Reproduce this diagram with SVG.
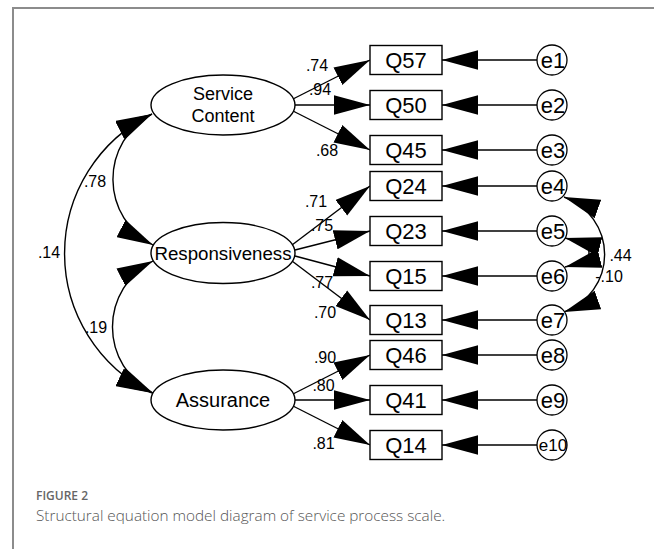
<svg xmlns="http://www.w3.org/2000/svg" width="654" height="549" viewBox="0 0 654 549">
  <style>
    .bg { fill: #ffffff; }
    .frame { stroke: #8c8c8c; stroke-width: 2; fill: none; }
    .latent { fill: #ffffff; stroke: #000000; stroke-width: 1.4; }
    .obs { fill: #ffffff; stroke: #000000; stroke-width: 1.4; }
    .err { fill: #ffffff; stroke: #000000; stroke-width: 1.3; }
    .edge { fill: none; stroke: #000000; stroke-width: 1.4; }
    .path { marker-end: url(#head); }
    .cov { marker-start: url(#head); marker-end: url(#head); }
    text { font-family: "Liberation Sans", Arial, sans-serif; fill: #000000; }
    .lt { font-size: 18px; text-anchor: middle; }
    .ob { font-size: 22px; text-anchor: middle; }
    .el { font-size: 22px; text-anchor: middle; }
    .coef { font-size: 16px; text-anchor: middle; }
    .cap-title { font-family: "Open Sans", "Liberation Sans", sans-serif; font-size: 12px; font-weight: 600; fill: #666666; }
    .cap-text { font-family: "Open Sans", "Liberation Sans", sans-serif; font-size: 15.3px; font-weight: 300; fill: #555555; }
  </style>
  <defs>
    <marker id="head" markerUnits="userSpaceOnUse" markerWidth="36" markerHeight="20" viewBox="0 0 35 19" refX="35" refY="9.5" orient="auto-start-reverse">
      <path d="M0,0 L35,9.5 L0,19 Z" fill="#000000"/>
    </marker>
  </defs>

  <rect class="bg" x="0" y="0" width="654" height="549"/>
  <!-- panel frame -->
  <path class="frame" d="M13,549 L13,8 L654,8"/>

  <!-- connectors -->
  <g id="connectors">
    <!-- loadings: Service Content -->
    <path class="edge path" d="M293,99 L370,60"/>
    <path class="edge path" d="M295,105 L370,105"/>
    <path class="edge path" d="M293,111 L370,150"/>
    <!-- loadings: Responsiveness -->
    <path class="edge path" d="M292,245 L370,186"/>
    <path class="edge path" d="M295,250 L370,231"/>
    <path class="edge path" d="M295,256 L370,276"/>
    <path class="edge path" d="M292,261 L370,320"/>
    <!-- loadings: Assurance -->
    <path class="edge path" d="M293,394 L370,355"/>
    <path class="edge path" d="M295,400 L370,400"/>
    <path class="edge path" d="M293,406 L370,445"/>

    <!-- error terms -->
    <path class="edge path" d="M537,60 L442,60"/>
    <path class="edge path" d="M537,105 L442,105"/>
    <path class="edge path" d="M537,150 L442,150"/>
    <path class="edge path" d="M537,186 L442,186"/>
    <path class="edge path" d="M537,231 L442,231"/>
    <path class="edge path" d="M537,276 L442,276"/>
    <path class="edge path" d="M537,320 L442,320"/>
    <path class="edge path" d="M537,355 L442,355"/>
    <path class="edge path" d="M537,400 L442,400"/>
    <path class="edge path" d="M537,445 L442,445"/>

    <!-- factor covariances -->
    <path class="edge cov" d="M152,114 A155 155 0 0 0 152,393"/>
    <path class="edge cov" d="M152,114 A74 74 0 0 0 153,245"/>
    <path class="edge cov" d="M153,261 A74 74 0 0 0 153,393"/>

    <!-- error covariances -->
    <path class="edge cov" d="M564,197 A61 61 0 0 1 564,312"/>
    <path class="edge cov" d="M565,238 L585,243 Q593,252.5 585,262 L565,267"/>
  </g>

  <!-- coefficient labels -->
  <g id="coefficients">
    <text class="coef" x="317" y="70.5">.74</text>
    <text class="coef" x="320" y="95">.94</text>
    <text class="coef" x="327" y="156">.68</text>
    <text class="coef" x="316" y="206.5">.71</text>
    <text class="coef" x="322" y="231">.75</text>
    <text class="coef" x="322" y="288">.77</text>
    <text class="coef" x="325" y="318">.70</text>
    <text class="coef" x="325" y="363">.90</text>
    <text class="coef" x="323.5" y="391">.80</text>
    <text class="coef" x="323.5" y="449">.81</text>
    <text class="coef" x="95" y="187">.78</text>
    <text class="coef" x="49" y="258">.14</text>
    <text class="coef" x="96" y="333">.19</text>
    <text class="coef" x="620.5" y="261">.44</text>
    <text class="coef" x="609" y="282">-.10</text>
  </g>

  <!-- latent factors -->
  <g id="service-content">
    <ellipse class="latent" cx="223" cy="105" rx="72" ry="30"/>
    <text class="lt" x="223" y="100">Service</text>
    <text class="lt" x="223" y="121.5">Content</text>
  </g>
  <g id="responsiveness">
    <ellipse class="latent" cx="223" cy="253" rx="72" ry="30.5"/>
    <text class="lt" x="223" y="260" style="font-size:18.7px">Responsiveness</text>
  </g>
  <g id="assurance">
    <ellipse class="latent" cx="223" cy="400" rx="72" ry="30"/>
    <text class="lt" x="223" y="407" style="font-size:20px">Assurance</text>
  </g>

  <!-- observed items -->
  <g id="q57"><rect class="obs" x="370" y="45.5" width="72" height="29"/><text class="ob" x="406" y="68">Q57</text></g>
  <g id="q50"><rect class="obs" x="370" y="90.5" width="72" height="29"/><text class="ob" x="406" y="113">Q50</text></g>
  <g id="q45"><rect class="obs" x="370" y="135.5" width="72" height="29"/><text class="ob" x="406" y="158">Q45</text></g>
  <g id="q24"><rect class="obs" x="370" y="171.5" width="72" height="29"/><text class="ob" x="406" y="194">Q24</text></g>
  <g id="q23"><rect class="obs" x="370" y="216.5" width="72" height="29"/><text class="ob" x="406" y="239">Q23</text></g>
  <g id="q15"><rect class="obs" x="370" y="261.5" width="72" height="29"/><text class="ob" x="406" y="284">Q15</text></g>
  <g id="q13"><rect class="obs" x="370" y="305.5" width="72" height="29"/><text class="ob" x="406" y="328">Q13</text></g>
  <g id="q46"><rect class="obs" x="370" y="340.5" width="72" height="29"/><text class="ob" x="406" y="363">Q46</text></g>
  <g id="q41"><rect class="obs" x="370" y="385.5" width="72" height="29"/><text class="ob" x="406" y="408">Q41</text></g>
  <g id="q14"><rect class="obs" x="370" y="430.5" width="72" height="29"/><text class="ob" x="406" y="453">Q14</text></g>

  <!-- error terms -->
  <g id="e1"><circle class="err" cx="552" cy="60" r="15"/><text class="el" x="553" y="67.5">e1</text></g>
  <g id="e2"><circle class="err" cx="552" cy="105" r="15"/><text class="el" x="553" y="112.5">e2</text></g>
  <g id="e3"><circle class="err" cx="552" cy="150" r="15"/><text class="el" x="553" y="157.5">e3</text></g>
  <g id="e4"><circle class="err" cx="552" cy="186" r="15"/><text class="el" x="553" y="193.5">e4</text></g>
  <g id="e5"><circle class="err" cx="552" cy="231" r="15"/><text class="el" x="553" y="238.5">e5</text></g>
  <g id="e6"><circle class="err" cx="552" cy="276" r="15"/><text class="el" x="553" y="283.5">e6</text></g>
  <g id="e7"><circle class="err" cx="552" cy="320" r="15"/><text class="el" x="553" y="327.5">e7</text></g>
  <g id="e8"><circle class="err" cx="552" cy="355" r="15"/><text class="el" x="553" y="362.5">e8</text></g>
  <g id="e9"><circle class="err" cx="552" cy="400" r="15"/><text class="el" x="553" y="407.5">e9</text></g>
  <g id="e10"><circle class="err" cx="552" cy="445" r="15"/><text class="el" x="553" y="451" style="font-size:17px">e10</text></g>

  <!-- caption -->
  <g id="caption">
    <text class="cap-title" x="36" y="500">FIGURE 2</text>
    <text class="cap-text" x="36" y="521">Structural equation model diagram of service process scale.</text>
  </g>
</svg>
